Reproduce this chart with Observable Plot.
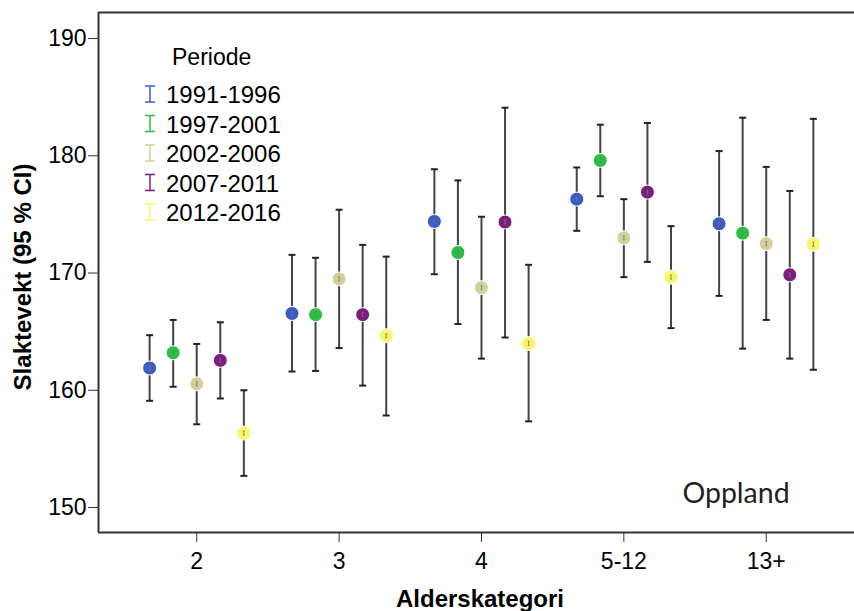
<!DOCTYPE html>
<html><head><meta charset="utf-8">
<script src="https://cdn.jsdelivr.net/npm/d3@7"></script>
<script src="https://cdn.jsdelivr.net/npm/@observablehq/plot@0.6"></script>
<style>
html,body{margin:0;padding:0;background:#fff;overflow:hidden}
#wrap{position:relative;width:854px;height:611px}
#wrap svg{position:absolute;left:0;top:0}
</style></head><body><div id="wrap"></div>
<script>
// ---- data ----
const categories = ["2", "3", "4", "5-12", "13+"];
const periods = ["1991-1996", "1997-2001", "2002-2006", "2007-2011", "2012-2016"];
const colors = ["#3d5cc0", "#2dbd45", "#d4cf9b", "#7b1f7e", "#f8f66b"];
// rows: periods, columns: categories
const means = [
  [161.9, 166.55, 174.4, 176.3, 174.2],
  [163.2, 166.45, 171.75, 179.6, 173.4],
  [160.55, 169.5, 168.75, 173.0, 172.5],
  [162.55, 166.45, 174.35, 176.9, 169.85],
  [156.35, 164.65, 164.0, 169.65, 172.45]
];
const lower = [
  [159.1, 161.6, 169.9, 173.6, 168.05],
  [160.3, 161.65, 165.65, 176.55, 163.55],
  [157.1, 163.6, 162.7, 169.65, 166.0],
  [159.3, 160.4, 164.5, 170.95, 162.7],
  [152.7, 157.85, 157.35, 165.3, 161.75]
];
const upper = [
  [164.7, 171.55, 178.85, 179.0, 180.4],
  [166.0, 171.3, 177.9, 182.65, 183.25],
  [163.95, 175.4, 174.8, 176.3, 179.05],
  [165.8, 172.4, 184.1, 182.8, 177.0],
  [160.0, 171.4, 170.7, 174.0, 183.15]
];
const yTicks = [150, 160, 170, 180, 190];
const region = "Oppland";

// ---- build table ----
const dodge = 0.1655;
const rows = [];
periods.forEach((p, pi) => categories.forEach((c, ci) => {
  rows.push({period: p, cat: c, x: ci + (pi - 2) * dodge, mean: means[pi][ci], lo: lower[pi][ci], hi: upper[pi][ci]});
}));

const yDomain = [147.87, 192.22];
const xDomain = [-0.69, 4.62];

const capSymbol = {draw(ctx, size) { const r = Math.sqrt(size / Math.PI); ctx.moveTo(-r, 0); ctx.lineTo(r, 0); }};
const midSymbol = {draw(ctx, size) { const r = Math.sqrt(size / Math.PI); ctx.moveTo(0, -r); ctx.lineTo(0, r); ctx.moveTo(-r*0.5, -r); ctx.lineTo(r*0.5, -r); ctx.moveTo(-r*0.5, r); ctx.lineTo(r*0.5, r); }};

const chart = Plot.plot({
  width: 854, height: 611,
  marginLeft: 98, marginRight: 0, marginTop: 12, marginBottom: 79,
  style: {fontFamily: "'Liberation Sans', Arial, sans-serif", fontSize: "23px", color: "#000", background: "transparent"},
  x: {domain: xDomain, ticks: [0, 1, 2, 3, 4], tickFormat: i => categories[i], tickSize: 10, tickPadding: 10, label: null},
  y: {domain: yDomain, ticks: yTicks, tickSize: 10, tickPadding: 2, label: null},
  color: {domain: periods, range: colors},
  marks: [
    Plot.ruleY([yDomain[1]], {stroke: "#333", strokeWidth: 2}),
    Plot.ruleY([yDomain[0]], {stroke: "#333", strokeWidth: 2}),
    Plot.ruleX([xDomain[0]], {stroke: "#333", strokeWidth: 2}),
    Plot.ruleX(rows, {x: "x", y1: "lo", y2: "hi", stroke: "#444", strokeWidth: 2}),
    Plot.dot(rows, {x: "x", y: "lo", symbol: capSymbol, r: 3.5, stroke: "#222", strokeWidth: 2}),
    Plot.dot(rows, {x: "x", y: "hi", symbol: capSymbol, r: 3.5, stroke: "#222", strokeWidth: 2}),
    Plot.dot(rows, {x: "x", y: "mean", r: 7, fill: "period", stroke: "#fff", strokeWidth: 1, fillOpacity: 1}),
    Plot.dot(rows, {x: "x", y: "mean", symbol: midSymbol, r: 2, stroke: "#777", strokeWidth: 0.8})
  ]
});
chart.querySelectorAll("g[aria-label$='axis'] line, g[aria-label$='tick'] path").forEach(e => e.setAttribute("stroke", "#333"));
document.getElementById("wrap").appendChild(chart);

// ---- overlay: titles, legend, region label ----
const ov = d3.select("#wrap").append("svg").attr("width", 854).attr("height", 611)
  .style("font-family", "'Liberation Sans', Arial, sans-serif");
ov.append("text").attr("transform", "translate(22,277) rotate(-90)")
  .attr("text-anchor", "middle").attr("dominant-baseline", "central")
  .attr("font-weight", "bold").attr("font-size", 24).text("Slaktevekt (95 % CI)");
ov.append("text").attr("x", 480).attr("y", 598)
  .attr("text-anchor", "middle").attr("dominant-baseline", "central")
  .attr("font-weight", "bold").attr("font-size", 24).text("Alderskategori");
ov.append("text").attr("x", 172).attr("y", 65).attr("font-size", 23).text("Periode");
periods.forEach((p, i) => {
  const yb = 103 + i * 29.5;
  const g = ov.append("g").attr("stroke", colors[i]).attr("stroke-width", 1.5);
  g.append("line").attr("x1", 150).attr("x2", 150).attr("y1", yb - 17).attr("y2", yb - 1);
  g.append("line").attr("x1", 145).attr("x2", 155).attr("y1", yb - 17).attr("y2", yb - 17);
  g.append("line").attr("x1", 145).attr("x2", 155).attr("y1", yb - 1).attr("y2", yb - 1);
  ov.append("text").attr("x", 166).attr("y", yb).attr("font-size", 24).text(p);
});
ov.append("text").attr("x", 736).attr("y", 503).attr("text-anchor", "middle")
  .attr("font-family", "Lato, 'Open Sans', sans-serif").attr("font-size", 28.5).attr("fill", "#222").text(region);
</script></body></html>
